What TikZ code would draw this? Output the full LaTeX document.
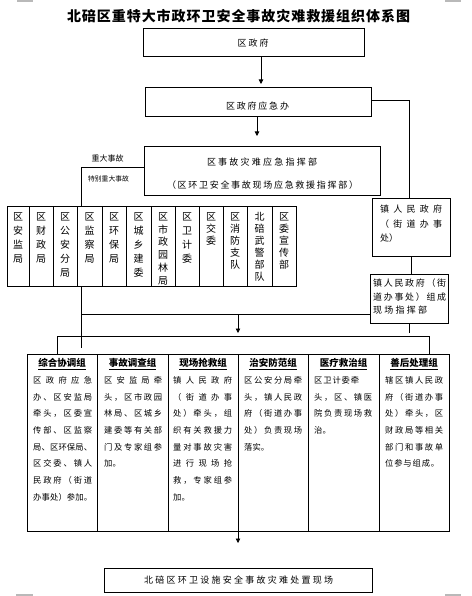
\documentclass[tikz,border=0pt]{standalone}
\usepackage{fontspec}
\setmainfont{Noto Sans CJK SC}
\usetikzlibrary{arrows.meta}
\makeatletter
\newcommand\spr[2]{\leavevmode\hbox to #1{\@tfor\spr@c:=#2\do{\spr@c\hfil}\unskip}}
\makeatother
\begin{document}
\begin{tikzpicture}[x=1pt,y=-1pt,
  ln/.style={line width=0.8pt},
  arr/.style={line width=0.8pt,-{Triangle[width=4.5pt,length=4.5pt]}},
  bx/.style={draw,line width=0.8pt,inner sep=0pt,fill=white},
  txt/.style={inner sep=0pt,font=\fontsize{9}{11}\selectfont},
  dtxt/.style={inner sep=0pt,anchor=north,align=center},
  gtxt/.style={inner sep=0pt,anchor=north west,align=left,font=\fontsize{8.3}{16.7}\selectfont},
  ghead/.style={inner sep=0pt,font=\fontsize{9.5}{11}\selectfont\bfseries},
  cropmk/.style={draw=gray!55,line width=1.6pt}]
\path[fill=white] (0,0) rectangle (471,596);
\useasboundingbox (0,0) rectangle (471,596);
% corner marks
\draw[cropmk] (17,0.8) -- (33,0.8);
\draw[cropmk] (445,0.8) -- (461,0.8);
\draw[cropmk] (16,595.2) -- (33,595.2);
\draw[cropmk] (445,595.2) -- (461,595.2);
% title
\node[inner sep=0pt,font=\fontsize{14}{16}\selectfont\bfseries] (title) at (238.5,16.5) {\spr{343pt}{北碚区重特大市政环卫安全事故灾难救援组织体系图}};
% top boxes
\node[bx,minimum width=221pt,minimum height=28pt] (zf) at (253.5,42) {};
\node[txt] (zft) at (253,43) {\spr{31pt}{区政府}};
\node[bx,minimum width=226pt,minimum height=29pt] (yj) at (258,101.5) {};
\node[txt] (yjt) at (257.5,106.5) {\spr{63pt}{区政府应急办}};
\node[bx,minimum width=236pt,minimum height=49pt] (zh) at (262,170.5) {};
\node[txt] (zht1) at (262,162) {\spr{110pt}{区事故灾难应急指挥部}};
\node[txt] (zht2) at (262.5,185) {\spr{191pt}{（区环卫安全事故现场应急救援指挥部）}};
% right boxes
\node[bx,minimum width=78pt,minimum height=58pt] (zr1) at (411,227) {};
\node[inner sep=0pt,anchor=north west,align=left,font=\fontsize{9}{14.5}\selectfont] (zr1t) at (380,204.9)
  {\spr{62pt}{镇人民政府}\\\spr{62pt}{（街道办事}\\处）};
\node[bx,minimum width=78pt,minimum height=49pt] (zr2) at (409,298.5) {};
\node[inner sep=0pt,anchor=north west,align=left,font=\fontsize{9}{13.5}\selectfont] (zr2t) at (373,278.9)
  {\spr{73pt}{镇人民政府（街}\\\spr{73pt}{道办事处）组成}\\\spr{54pt}{现场指挥部}};
% labels
\node[inner sep=0pt,font=\fontsize{8}{9}\selectfont] (lb1) at (107.5,158) {重大事故};
\node[inner sep=0pt,font=\fontsize{6.8}{8}\selectfont] (lb2) at (108.5,179) {特别重大事故};
% department row
\foreach \n/\l/\r/\t/\p in {1/7/29/区\\安\\监\\局/14, 2/29/53/区\\财\\政\\局/14, 3/53/77/区\\公\\安\\分\\局/14,
  4/77/102/区\\监\\察\\局/14, 5/102/126/区\\环\\保\\局/14, 6/126/151/区\\城\\乡\\建\\委/14,
  7/151/175/区\\市\\政\\园\\林\\局/12.7, 8/175/199/区\\卫\\计\\委/14, 9/199/223/区\\交\\委/12,
  10/223/247/区\\消\\防\\支\\队/12, 11/247/272/北\\碚\\武\\警\\部\\队/12, 12/272/296/区\\委\\宣\\传\\部/12}{
  \node[bx,minimum width={(\r-\l)*1pt},minimum height=80pt] (d\n) at ({(\l+\r)/2},246) {};
  \node[dtxt,font=\fontsize{10}{\p}\selectfont] (dt\n) at ({(\l+\r)/2},212.5) {\t};
}
% group row
\node[bx,minimum width=70pt,minimum height=177pt] (g1) at (62,442.5) {};
\node[bx,minimum width=71pt,minimum height=177pt] (g2) at (132.5,442.5) {};
\node[bx,minimum width=70pt,minimum height=177pt] (g3) at (203,442.5) {};
\node[bx,minimum width=70pt,minimum height=177pt] (g4) at (273,442.5) {};
\node[bx,minimum width=71pt,minimum height=177pt] (g5) at (343.5,442.5) {};
\node[bx,minimum width=70pt,minimum height=177pt] (g6) at (414,442.5) {};
\node[ghead] (h1) at (62,364) {\underline{综合协调组}};
\node[ghead] (h2) at (132.5,364) {\underline{事故调查组}};
\node[ghead] (h3) at (203,364) {\underline{现场抢救组}};
\node[ghead] (h4) at (273,364) {\underline{治安防范组}};
\node[ghead] (h5) at (343.5,364) {\underline{医疗救治组}};
\node[ghead] (h6) at (414,364) {\underline{善后处理组}};
\node[gtxt] (gt1) at (33,376.2) {\spr{59pt}{区政府应急}\\\spr{59pt}{办、区安监局}\\\spr{59pt}{牵头，区委宣}\\\spr{59pt}{传部、区监察}\\\spr{59pt}{局、区环保局、}\\\spr{59pt}{区交委、镇人}\\\spr{59pt}{民政府（街道}\\\spr{59pt}{办事处）参加。}};
\node[gtxt] (gt2) at (104,376.2) {\spr{58pt}{区安监局牵}\\\spr{58pt}{头，区市政园}\\\spr{58pt}{林局、区城乡}\\\spr{58pt}{建委等有关部}\\\spr{58pt}{门及专家组参}\\加。};
\node[gtxt] (gt3) at (173,376.2) {\spr{59pt}{镇人民政府}\\\spr{59pt}{（街道办事}\\\spr{59pt}{处）牵头，组}\\\spr{59pt}{织有关救援力}\\\spr{59pt}{量对事故灾害}\\\spr{59pt}{进行现场抢}\\\spr{59pt}{救，专家组参}\\加。};
\node[gtxt] (gt4) at (244,376.2) {\spr{58pt}{区公安分局牵}\\\spr{58pt}{头，镇人民政}\\\spr{58pt}{府（街道办事}\\\spr{58pt}{处）负责现场}\\落实。};
\node[gtxt] (gt5) at (314,376.2) {\spr{45pt}{区卫计委牵}\\\spr{58pt}{头，区、镇医}\\\spr{58pt}{院负责现场救}\\治。};
\node[gtxt] (gt6) at (385,376.2) {\spr{58pt}{辖区镇人民政}\\\spr{58pt}{府（街道办事}\\\spr{58pt}{处）牵头，区}\\\spr{58pt}{财政局等相关}\\\spr{58pt}{部门和事故单}\\\spr{54pt}{位参与组成。}};
% final box
\node[bx,minimum width=268pt,minimum height=24pt] (fin) at (238,580) {};
\node[txt] (fint) at (238.5,580) {\spr{189pt}{北碚区环卫设施安全事故灾难处置现场}};
% coordinates
\coordinate (t1) at (261,84);
\coordinate (t2) at (257,136);
\coordinate (c3) at (409,100);
\coordinate (c4) at (81,167);
\coordinate (c5) at (81,348);
\coordinate (c6) at (81,314);
\coordinate (t7) at (238,333);
\coordinate (c8) at (57,336);
\coordinate (c9) at (429,336);
\coordinate (t10) at (409,333);
\coordinate (t11) at (238,543);
% connectors
\draw[arr] (t1 |- zf.south) -- (t1);
\draw[arr] (t2 |- yj.south) -- (t2);
\draw[ln] (c3 -| yj.east) -- (c3) -- (c3 |- zr1.north);
\draw[ln] (c4 -| zh.west) -- (c4) -- (c4 |- d4.north);
\draw[ln] (c5 |- d4.south) -- (c5);
\draw[ln] (c6) -- (c6 -| zr2.west);
\draw[arr] (t7 |- c6) -- (t7);
\draw[ln] (c8 |- g1.north) -- (c8) -- (c9) -- (c9 |- g6.north);
\draw[ln] (zr1.south) -- (zr1.south |- zr2.north);
\draw[ln] (zr2.south) -- (zr2.south |- t10);
\draw[arr] (t11 |- g3.south) -- (t11);
\end{tikzpicture}
\end{document}
